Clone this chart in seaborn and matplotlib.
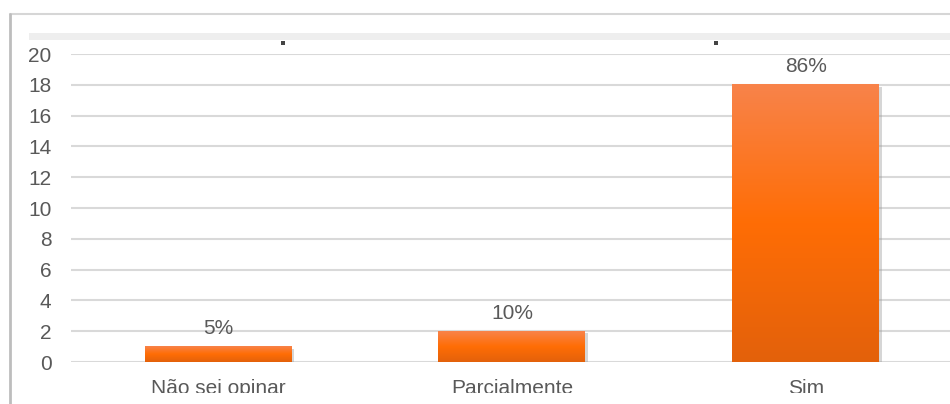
import numpy as np
import pandas as pd
import matplotlib
matplotlib.use("Agg")
import matplotlib.pyplot as plt
import seaborn as sns
from matplotlib.colors import LinearSegmentedColormap
from matplotlib.patches import Rectangle
from matplotlib.lines import Line2D
import matplotlib.patheffects as pe

# Survey answers (number of respondents per option)
categorias = ["Não sei opinar", "Parcialmente", "Sim"]
respostas = [1, 2, 18]
ticks_y = [0, 2, 4, 6, 8, 10, 12, 14, 16, 18, 20]

total = sum(respostas)
percentuais = [round(100 * v / total) for v in respostas]

sns.set_theme(style="white")
plt.rcParams["font.family"] = ["Liberation Sans", "DejaVu Sans"]

TXT = "#595959"
W, H = 950, 404

fig = plt.figure(figsize=(W / 100, H / 100), dpi=100)
fig.patch.set_facecolor("white")
ax = fig.add_axes([71 / W, 42 / H, 882 / W, 308 / H])

df = pd.DataFrame({"categoria": categorias, "respostas": respostas})
sns.barplot(data=df, x="categoria", y="respostas", color="#FF6A00",
            width=0.5, saturation=1, ax=ax, zorder=3)

# vertical orange gradient on each bar, with a soft drop shadow
grad_cmap = LinearSegmentedColormap.from_list(
    "laranja", ["#F8834A", "#FF6D05", "#E3610B"])
grad = np.linspace(0, 1, 256).reshape(-1, 1)
for p in ax.patches:
    x, y = p.get_x(), p.get_y()
    w, h = p.get_width(), p.get_height()
    p.set_edgecolor("none")
    p.set_path_effects([pe.SimplePatchShadow(offset=(1.5, -1.5),
                                             shadow_rgbFace="#999999",
                                             alpha=0.4), pe.Normal()])
    ax.imshow(grad, extent=[x, x + w, y, y + h], origin="upper",
              aspect="auto", cmap=grad_cmap, zorder=4, interpolation="bilinear")

for p, pct in zip(ax.patches, percentuais):
    ax.annotate(f"{pct}%", (p.get_x() + p.get_width() / 2, p.get_height()),
                xytext=(0, 6), textcoords="offset points",
                ha="center", va="bottom", fontsize=15, color=TXT, zorder=5)

ax.set_xlim(-0.5, 2.5)
ax.set_ylim(0, 20)
ax.set_yticks(ticks_y)
ax.set_xlabel("")
ax.set_ylabel("")
ax.yaxis.grid(True, color="#D9D9D9", linewidth=1.5)
ax.set_axisbelow(True)
for s in ax.spines.values():
    s.set_visible(False)
ax.tick_params(axis="y", length=0, pad=14, labelsize=15, labelcolor=TXT)
ax.tick_params(axis="x", length=0, pad=12, labelsize=15, labelcolor=TXT)

# surrounding frame of the chart area
fig.add_artist(Line2D([10 / W, 1], [1 - 14 / H, 1 - 14 / H],
                      transform=fig.transFigure, color="#D6D6D6", lw=1.5))
fig.add_artist(Line2D([10 / W, 10 / W], [0, 1 - 14 / H],
                      transform=fig.transFigure, color="#BDBDBD", lw=2))
fig.add_artist(Rectangle((29 / W, 1 - 40 / H), 1, 7 / H,
                         transform=fig.transFigure, color="#EEEEEE", lw=0))
fig.add_artist(Line2D([283 / W, 716 / W], [1 - 43 / H, 1 - 43 / H],
                      transform=fig.transFigure, ls="none", marker="s",
                      markersize=2.3, markeredgewidth=0, color="#444444"))
fig.add_artist(Rectangle((12 / W, 0), 1, 11 / H, transform=fig.transFigure,
                         color="white", lw=0, zorder=10))

fig.savefig("out.png", dpi=100)
